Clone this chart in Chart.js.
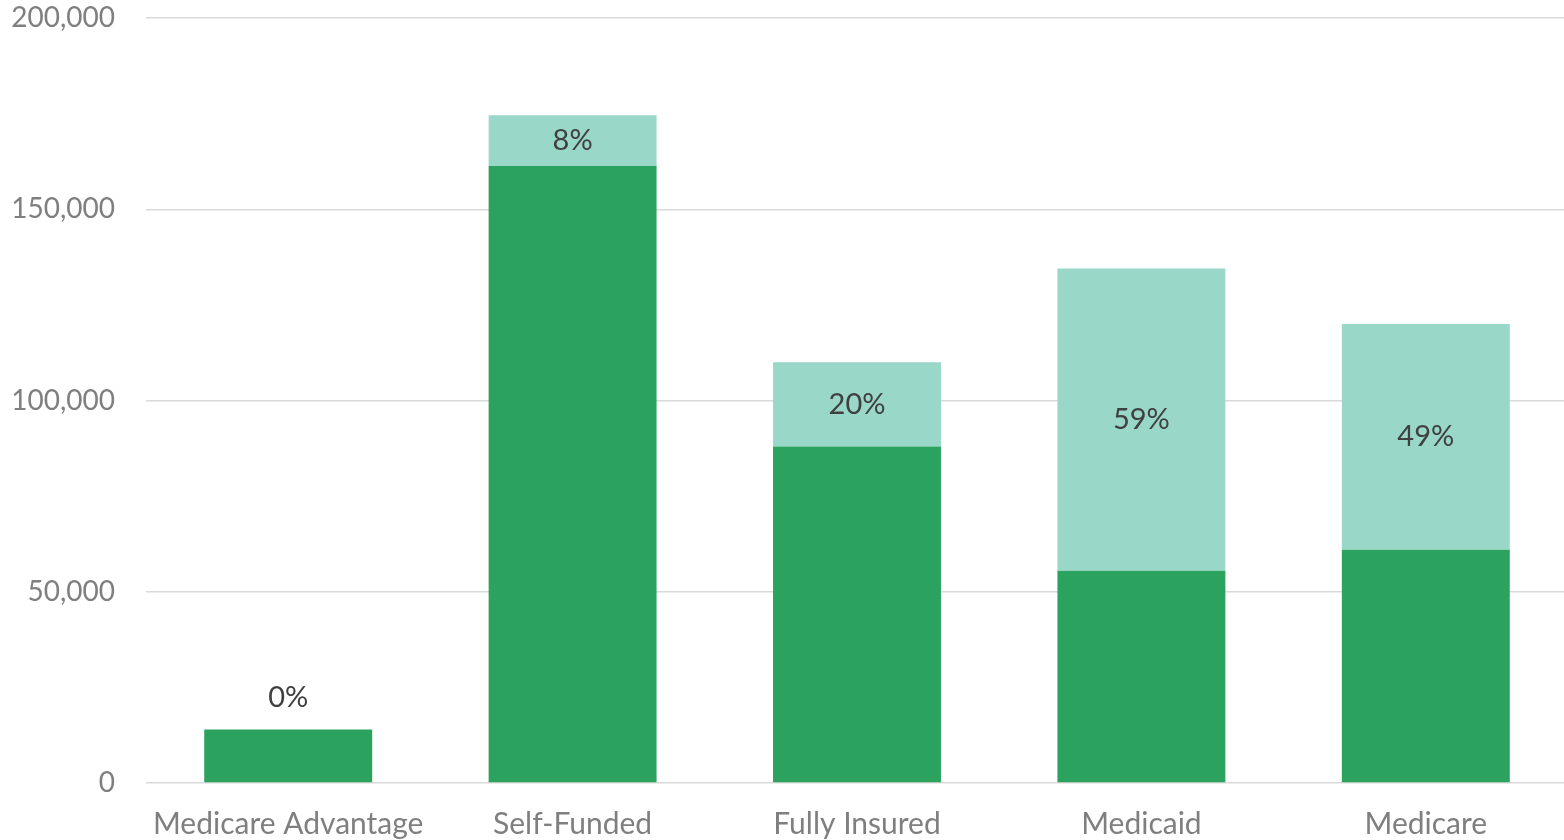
<!DOCTYPE html>
<html><head><meta charset="utf-8">
<script src="https://cdn.jsdelivr.net/npm/chart.js@4.4.1/dist/chart.umd.min.js"></script>
<style>html,body{margin:0;padding:0;background:#fff;overflow:hidden}#wrap{width:1564px;height:840px;overflow:hidden}</style>
</head><body><div id="wrap"><canvas id="c" width="1568" height="840"></canvas></div>
<script>
const categories = ['Medicare Advantage', 'Self-Funded', 'Fully Insured', 'Medicaid', 'Medicare'];
const baseValues = [14000, 161300, 88000, 55500, 61000];
const topValues = [0, 13300, 22000, 79000, 59000];
const topLabels = ['0%', '8%', '20%', '59%', '49%'];
const yTicks = [0, 50000, 100000, 150000, 200000];

const FONT = 'Lato, "Open Sans", sans-serif';

const labelPlugin = {
  id: 'segLabels',
  afterDatasetsDraw(chart) {
    const meta = chart.getDatasetMeta(1);
    const ctx = chart.ctx;
    ctx.save();
    ctx.font = '29px ' + FONT;
    ctx.fillStyle = '#404040';
    ctx.textAlign = 'center';
    ctx.textBaseline = 'middle';
    meta.data.forEach((el, i) => {
      const h = Math.abs(el.base - el.y);
      const y = h < 30 ? el.y - 32 : (el.y + el.base) / 2;
      ctx.fillText(topLabels[i], el.x, y);
    });
    ctx.restore();
  }
};

new Chart(document.getElementById('c'), {
  type: 'bar',
  data: {
    labels: categories,
    datasets: [
      { data: baseValues, backgroundColor: '#2ca25f', borderWidth: 0, barPercentage: 0.5905, categoryPercentage: 1 },
      { data: topValues, backgroundColor: '#99d8c9', borderWidth: 0, barPercentage: 0.5905, categoryPercentage: 1 }
    ]
  },
  options: {
    responsive: false,
    animation: false,
    devicePixelRatio: 1,
    layout: { padding: { top: 18, left: 0, right: 0, bottom: 0 } },
    plugins: { legend: { display: false }, tooltip: { enabled: false } },
    scales: {
      x: {
        stacked: true,
        grid: { display: false, drawTicks: false },
        border: { display: false },
        ticks: { color: '#7f7f7f', font: { family: FONT, size: 30 }, padding: 23, maxRotation: 0, autoSkip: false },
        afterFit(s) { s.height = 57; s.paddingLeft = 0; s.paddingRight = 0; s.paddingTop = 0; s.paddingBottom = 0; }
      },
      y: {
        stacked: true,
        min: 0, max: 200000,
        afterBuildTicks(s) { s.ticks = yTicks.map(v => ({ value: v })); },
        grid: { color: '#d9d9d9', lineWidth: 1.5, drawTicks: false },
        border: { display: false },
        ticks: { color: '#7f7f7f', font: { family: FONT, size: 28 }, padding: 31,
          callback: v => v.toLocaleString('en-US') },
        afterFit(s) { s.width = 146; s.paddingTop = 0; s.paddingBottom = 0; s.paddingLeft = 0; s.paddingRight = 0; }
      }
    }
  },
  plugins: [labelPlugin]
});
</script>
</body></html>
